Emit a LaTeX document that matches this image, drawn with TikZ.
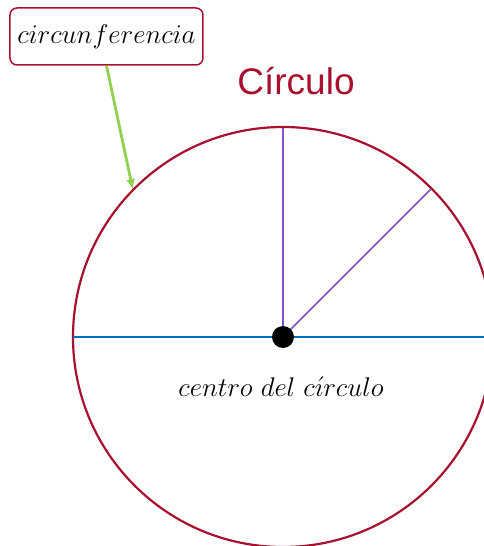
\documentclass[tikz,border=0pt]{standalone}
\usepackage{fix-cm}
\usepackage{fontspec}
\newfontfamily\titlefont{Liberation Sans}
\usetikzlibrary{arrows.meta}
\definecolor{circred}{HTML}{A8102E}
\definecolor{diamblue}{HTML}{0070C0}
\definecolor{radpurple}{HTML}{8050C8}
\definecolor{arrowgreen}{HTML}{92D050}
\tikzset{
    mathlabel/.style={font=\fontsize{27}{31}\selectfont, inner sep=0},
    labelbox/.style={draw=circred, line width=1.5pt, rounded corners=7pt, fill=white,
        minimum width=193pt, minimum height=57pt, mathlabel}
}
\begin{document}
\begin{tikzpicture}[x=1pt,y=1pt]
    \useasboundingbox (-283,-209) rectangle (201,337);
    \clip (-283,-209) rectangle (201,337);

    % the circle and its lines
    \draw[circred, line width=2.2pt] (0,0) circle (210);
    \coordinate (left) at (180:210);
    \coordinate (right) at (0:210);
    \coordinate (top) at (90:209);
    \coordinate (diag) at (45:209);
    \coordinate (tip) at (135.6:210);
    \coordinate (mid) at (0,0);
    \draw[diamblue, line width=2.8pt] (left) -- (right);
    \draw[radpurple, line width=1.5pt] (mid) -- (top);
    \draw[radpurple, line width=1.5pt] (mid) -- (diag);
    \node[circle, fill=black, minimum size=22pt, inner sep=0] (centro) at (mid) {};

    % labels
    \node[anchor=base, font=\titlefont\fontsize{37}{40}\selectfont, text=circred] (titulo) at (13,242) {Círculo};
    \node[mathlabel, anchor=base] (centrolabel) at (-2,-59) {$centro\ del\ c\acute{\imath}rculo$};
    \node[labelbox] (circbox) at (-176.5,300.5) {$circunferencia$};

    \draw[-{Latex[length=11pt,width=9pt]}, arrowgreen, line width=2.8pt] (circbox.south) -- (tip);
\end{tikzpicture}
\end{document}
